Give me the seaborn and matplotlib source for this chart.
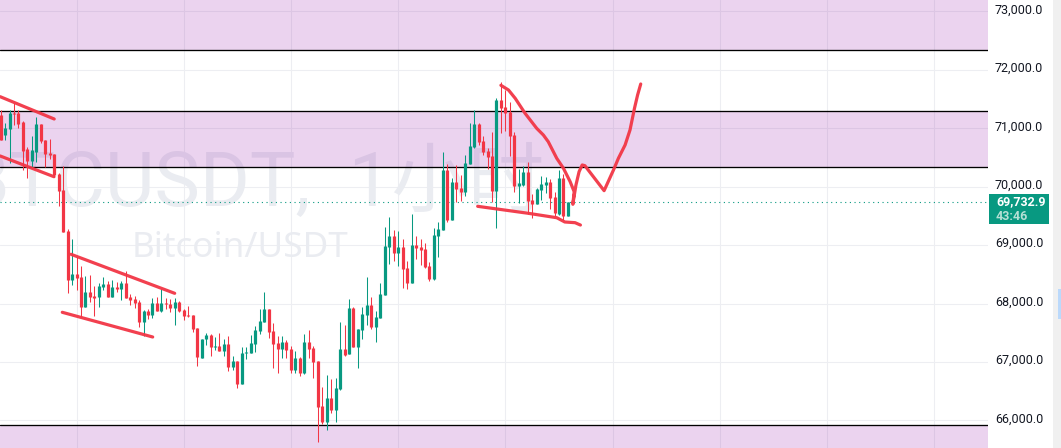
import numpy as np
import pandas as pd
import matplotlib
matplotlib.use("Agg")
import matplotlib.pyplot as plt
from matplotlib.patches import Rectangle
from matplotlib.transforms import ScaledTranslation
import seaborn as sns

# candles, one per hour
open_ = [71199,70856,70959,71239,71239,71073,70611,70411,70565,71045,70771,70548,70531,70189,69915,69213,
         68374,68477,68425,67912,68168,68100,68083,68254,68305,68083,68254,68220,68322,68083,68048,67997,
         67655,67843,67775,67980,67843,67980,67963,67894,67997,67860,67775,67775,67551,67038,67363,67432,
         67226,67243,67158,67278,66884,66987,66593,67123,67123,67278,67500,67654,67877,67500,67295,67192,
         67312,67192,66833,67038,66781,67312,67209,66987,66216,65942,66353,66148,66507,67192,67106,67894,
         67226,67517,67774,67945,67569,67723,68117,68938,69127,68836,68938,68579,68322,68973,68938,68904,
         68613,68390,69127,69230,70257,69401,70051,69949,69880,70360,70651,71044,70753,70582,70497,69897,
         71455,71336,71250,70856,69983,70000,70223,69743,69675,69915,70000,70051,69795,69504,70120,69469]
high = [71284,71056,71284,71399,71284,71102,70657,70839,71170,71045,70771,70788,70531,70200,70326,69247,
        69076,68773,68613,68448,68459,68271,68317,68425,68357,68368,68340,68357,68528,68134,68100,68031,
        67860,67877,68066,68083,68220,68066,68048,68066,68014,67877,67929,67775,67551,67363,67466,67449,
        67397,67466,67363,67415,67072,66987,67226,67226,67432,67586,67877,68168,67877,67637,67415,67415,
        67346,67243,67158,67055,67449,67517,67243,66987,66541,66747,66678,66696,67654,67603,68048,67911,
        67534,67911,68425,68082,67843,68322,69281,69452,69229,69212,69075,68699,69503,69127,69075,69007,
        68682,69264,69366,70565,70360,70120,70343,70171,70514,71062,71284,71062,70839,70634,70907,71490,
        71764,71627,71421,70907,70274,70325,70394,69846,69949,70154,70137,70103,69880,70257,70188,69704]
low = [70771,70771,70371,71028,70970,70257,70126,70286,70400,70714,70303,70445,70143,69646,69201,68157,
       68288,68203,67735,67912,67991,67757,67912,68203,68083,68083,68168,68031,68066,67946,67894,67575,
       67415,67706,67723,67843,67826,67877,67826,67603,67826,67689,67740,67484,66901,67038,67261,67072,
       67175,67158,67072,66815,66832,66524,66593,67021,67123,67141,67449,67654,67380,66867,66781,67038,
       67038,66781,66781,66730,66764,67038,66696,65600,65908,65805,66096,65942,66490,67072,67106,67226,
       66867,67363,67603,67534,67312,67723,68117,68647,68699,68613,68236,68219,68322,68733,68630,68579,
       68356,68373,68767,69230,69367,69401,69709,69726,69812,70360,70634,70685,70514,70274,69709,69264,
       70890,70925,70497,69880,69692,69983,69504,69435,69675,69743,69863,69589,69469,69487,69401,69469]
close = [70771,70970,71239,71216,71045,70588,70411,70600,71045,70748,70531,70514,70172,69903,69201,68374,
         68477,68408,67912,68168,68083,68066,68271,68305,68083,68254,68220,68322,68066,68031,67980,67655,
         67843,67775,67980,67843,67980,67963,67894,67997,67843,67757,67757,67535,67055,67363,67432,67226,
         67243,67158,67278,66884,66987,66593,67123,67141,67295,67517,67671,67877,67483,67278,67192,67312,
         67175,66833,67038,66781,67312,67192,66969,66199,65942,66353,66148,66524,67192,67089,67894,67226,
         67534,67791,67945,67569,67740,68134,68955,69127,68836,68938,68562,68322,68973,68921,68887,68596,
         68390,69144,69247,70257,69401,70051,69932,69880,70377,70668,71044,70736,70565,70479,69897,71455,
         71318,71233,70839,69983,70034,70223,69726,69675,69932,70017,70051,69777,69521,70120,69469,69704]

# my readings were taken against the label centres, the grid sits this much higher
read_offset = 29

price_ticks = [66000, 67000, 68000, 69000, 70000, 71000, 72000, 73000]
day_lines = [17, 41, 65, 89, 113, 137, 161, 185, 209]
last_price = 69732.9
countdown = "43:46"

# (bottom, top) of the supply/demand boxes
zones = [(65400, 65929), (70337, 71296), (72340, 73300)]

# hand drawn lines, as candle number and price
channel_1_top = ([-0.1, 12.0], [71541, 71159])
channel_1_bot = ([-0.1, 11.95], [70526, 70171])
channel_2_top = ([15.76, 38.97], [68843, 68175])
channel_2_bot = ([13.81, 34.05], [67850, 67427])
support_x = [106.8, 118.1, 124.5, 126.3, 128.6, 129.8]
support_y = [69664, 69545, 69469, 69396, 69384, 69344]
path_x = [112.0, 113.7, 115.2, 117.4, 120.0, 121.5, 122.6, 124.5, 126.0, 127.5, 128.4, 128.1, 128.8, 129.5,
          130.2, 130.8, 135.1, 137.2, 138.3, 139.8, 140.9, 141.9, 142.6, 143.3]
path_y = [71736, 71655, 71513, 71257, 71000, 70885, 70770, 70486, 70315, 70086, 69914, 69699, 70029, 70257,
          70372, 70360, 69932, 70286, 70486, 70714, 70971, 71342, 71570, 71758]

RED = "#F23645"
GREEN = "#089981"
ZONE = "#9C27B0"

sns.set_theme(style="white")
plt.rcParams["font.family"] = ["Noto Sans CJK SC", "DejaVu Sans"]

W, H = 1061, 448
fig = plt.figure(figsize=(W / 100, H / 100), dpi=100)
ax = fig.add_axes([0, 0, 988 / W, 1])

df = pd.DataFrame({"open": open_, "high": high, "low": low, "close": close}) + read_offset
df["i"] = np.arange(len(df))
df["dir"] = np.where(df["close"] >= df["open"], "up", "down")
colors = {"up": GREEN, "down": RED}

wicks = df.melt(id_vars=["i", "dir"], value_vars=["high", "low"], value_name="price")
bodies = df.melt(id_vars=["i", "dir"], value_vars=["open", "close"], value_name="price")

sns.lineplot(data=wicks, x="i", y="price", hue="dir", units="i", estimator=None, palette=colors,
             legend=False, linewidth=0.75, solid_capstyle="butt", zorder=3, ax=ax)
sns.lineplot(data=bodies, x="i", y="price", hue="dir", units="i", estimator=None, palette=colors,
             legend=False, linewidth=2.3, solid_capstyle="butt", zorder=3, ax=ax)

for bottom, top in zones:
    ax.axhspan(bottom, top, color=ZONE, alpha=0.2, lw=0, zorder=1)
for level in [65929, 70337, 71296, 72340]:
    ax.axhline(level, color="black", lw=0.95, zorder=2)

ax.axhline(last_price, color=GREEN, lw=0.8, ls=(0, (1, 3.2)), zorder=2.5)

for xs, ys in [channel_1_top, channel_1_bot, channel_2_top, channel_2_bot, (support_x, support_y), (path_x, path_y)]:
    sns.lineplot(x=xs, y=ys, sort=False, estimator=None, color=RED, alpha=0.95, linewidth=2.3,
                 solid_capstyle="round", solid_joinstyle="round", zorder=4, ax=ax)

ax.set_xlim(-0.134, 221.04)
ax.set_ylim(65527, 73196)
ax.set_xlabel("")
ax.set_ylabel("")
ax.set_xticks(day_lines)
ax.set_xticklabels([])
ax.set_yticks(price_ticks)
ax.set_yticklabels([f"{p:,.1f}" for p in price_ticks], fontfamily="Roboto", fontsize=9, color="#131722")
ax.yaxis.tick_right()
ax.tick_params(axis="both", length=0)
ax.tick_params(axis="y", pad=5)
ax.grid(True, color="#EDEEF2", lw=0.8)
ax.set_axisbelow(True)
sns.despine(ax=ax, left=True, bottom=True, right=True, top=True)
lift = ScaledTranslation(0, 3 / 100, fig.dpi_scale_trans)
for label in ax.get_yticklabels():
    label.set_transform(label.get_transform() + lift)

# watermark
ax.text(-39 / 4.467, 69670, "BTCUSDT,  1小时", fontsize=55, color="#EAECF1", ha="left", va="baseline", zorder=0.8,
        clip_on=True, fontfamily=["Roboto", "Noto Sans CJK SC"])
ax.text(131 / 4.467, 68796, "Bitcoin/USDT", fontsize=25.3, color="#EAECF1", ha="left", va="baseline", zorder=0.8,
        fontfamily=["Noto Sans", "DejaVu Sans"])


def px_box(x0, y0, x1, y1, **kw):
    fig.add_artist(Rectangle((x0 / W, 1 - y1 / H), (x1 - x0) / W, (y1 - y0) / H, transform=fig.transFigure, lw=0, **kw))


# right edge of the screenshot and the last price tag
px_box(1053, 0, W, H, color="#F0F0F0")
px_box(1058, 289, W, 319, color="#BBD9FB")
px_box(989, 194, 1049, 224, color=GREEN)
fig.text(996 / W, 1 - 202 / H, f"{last_price:,.1f}", color="white", fontsize=9, fontweight="bold", family="Roboto",
         ha="left", va="center")
fig.text(996 / W, 1 - 216 / H, countdown, color="#B5E0D5", fontsize=9, fontweight="bold", family="Roboto",
         ha="left", va="center")

fig.savefig("out.png", dpi=100)
